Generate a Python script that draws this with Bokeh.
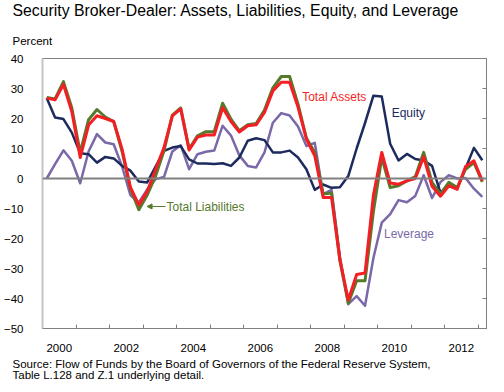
from bokeh.plotting import figure
from bokeh.models import (LinearAxis, FixedTicker, Span, Label, Arrow, NormalHead, Range1d, Title)
from bokeh.embed import file_html
from bokeh.resources import INLINE

# Quarterly observations, 2000Q1 .. 2013Q1 (percent change, annual rate)
quarters = [f"{y}Q{q}" for y in range(2000, 2014) for q in range(1, 5)][:53]

assets = [26.8, 26.2, 31.3, 22.3, 7.0, 17.8, 20.9, 20.0, 19.0, 9.8,
          -3.0, -8.8, -4.3, 3.0, 10.3, 20.9, 23.2, 9.5, 13.8, 14.5,
          14.5, 23.6, 19.0, 15.5, 17.6, 17.9, 22.0, 29.2, 32.1, 32.1,
          23.8, 13.1, 7.6, -6.3, -6.3, -27.0, -40.5, -32.0, -31.5, -5.6,
          8.7, -1.5, -1.9, -0.8, 0.0, 7.2, -2.6, -5.9, -2.4, -3.6,
          4.0, 5.9, -0.8]

liabilities = [27.0, 26.5, 32.3, 23.5, 8.6, 19.6, 23.0, 20.5, 19.0, 9.0,
               -3.5, -10.4, -5.5, 0.8, 9.2, 21.1, 23.5, 9.8, 14.2, 15.6,
               15.6, 25.1, 19.8, 15.9, 17.9, 18.3, 22.8, 30.2, 34.0, 34.0,
               24.8, 13.5, 8.7, -5.2, -4.8, -27.4, -41.6, -34.1, -34.1, -11.0,
               7.0, -3.0, -2.4, -0.8, 0.6, 8.7, -1.3, -5.2, -1.3, -3.0,
               3.1, 5.3, -1.1]

equity = [26.8, 20.3, 19.8, 15.3, 8.4, 8.1, 5.3, 7.2, 6.7, 4.2,
          2.6, -1.0, -1.3, 4.0, 9.2, 10.3, 10.8, 6.4, 5.0, 5.0,
          4.8, 5.1, 4.2, 7.0, 12.6, 13.4, 12.8, 8.7, 8.7, 9.3,
          7.0, 3.1, -3.8, -2.0, -3.1, -2.9, 0.8, 10.0, 18.5, 27.6,
          27.3, 11.6, 6.0, 8.2, 6.5, 6.0, 4.2, -4.7, -2.6, -3.2,
          3.4, 10.2, 6.1]

leverage = [0.0, 4.8, 9.4, 5.9, -1.6, 9.0, 14.8, 12.0, 11.4, 4.0,
            -5.6, -8.0, -3.6, -0.2, 0.5, 9.0, 11.1, 3.1, 8.1, 8.9,
            9.3, 17.6, 14.3, 7.7, 4.2, 3.7, 8.7, 18.6, 21.8, 21.0,
            17.3, 10.8, 11.9, -5.2, -3.8, -26.0, -41.9, -39.2, -42.4, -26.5,
            -14.7, -11.9, -7.2, -7.9, -5.8, 1.1, -6.5, -1.2, 1.1, 0.0,
            0.2, -3.4, -6.1]

y_ticks = [-50, -40, -30, -20, -10, 0, 10, 20, 30, 40]
year_labels = ["2000", "2002", "2004", "2006", "2008", "2010", "2012"]
year_bounds = list(range(2000, 2014))

TITLE = "Security Broker-Dealer: Assets, Liabilities, Equity, and Leverage"
UNITS = "Percent"
SOURCE = ("Source: Flow of Funds by the Board of Governors of the Federal Reserve System,\n"
          "Table L.128 and Z.1 underlying detail.")

FONT = "Liberation Sans"
RED = "#F41F25"
GREEN = "#557A2C"
NAVY = "#1C2A5E"
PURPLE = "#7A68A8"
GRAY = "#808080"

X0, X1, Y0, Y1 = 2000, 2013.25, -50, 40
W, H = 488, 388
BL, BR, BT, BB = 30, 2, 58, 60


def qpos(label):
    return int(label[:4]) + (int(label[5]) - 0.5) / 4


x = [qpos(s) for s in quarters]

p = figure(width=W, height=H, x_range=Range1d(X0, X1), y_range=Range1d(Y0, Y1),
           output_backend="svg", toolbar_location=None, title=None,
           x_axis_location=None, y_axis_location=None,
           min_border_left=BL, min_border_right=BR, min_border_top=BT, min_border_bottom=BB,
           background_fill_color="white", border_fill_color="white",
           outline_line_color=GRAY, outline_line_width=1)
p.xgrid.visible = False
p.ygrid.visible = False

yax = LinearAxis(ticker=FixedTicker(ticks=y_ticks), axis_line_color="#c4c4c4", axis_line_width=2,
                 major_tick_line_color=None, minor_tick_line_color=None,
                 major_label_standoff=13, major_label_text_font=FONT,
                 major_label_text_font_size="11.5px", major_label_text_color="black")
p.add_layout(yax, "left")

rax = LinearAxis(ticker=FixedTicker(ticks=[], minor_ticks=y_ticks), axis_line_color=GRAY,
                 axis_line_width=1, major_tick_line_color=None,
                 minor_tick_in=4, minor_tick_out=0, minor_tick_line_color=GRAY)
p.add_layout(rax, "right")

label_pos = [int(s) + 0.5 for s in year_labels]
xax = LinearAxis(ticker=FixedTicker(ticks=label_pos, minor_ticks=year_bounds),
                 major_label_overrides={pos: s for pos, s in zip(label_pos, year_labels)},
                 axis_line_color=GRAY, axis_line_width=1,
                 major_tick_line_color=None, major_tick_in=0, major_tick_out=0,
                 minor_tick_line_color=GRAY, minor_tick_in=4, minor_tick_out=0,
                 major_label_standoff=15, major_label_text_font=FONT,
                 major_label_text_font_size="11.5px", major_label_text_color="black")
p.add_layout(xax, "below")

# Titles (stacked outward from the frame)
p.add_layout(Title(text=UNITS, align="left", offset=-BL, standoff=24, vertical_align="bottom",
                   text_font=FONT, text_font_size="11.5px", text_font_style="normal",
                   text_color="black"), "above")
p.add_layout(Title(text=TITLE, align="left", offset=-BL, standoff=0, vertical_align="top",
                   text_font=FONT, text_font_size="15.8px", text_font_style="normal",
                   text_color="black"), "above")
p.add_layout(Title(text=SOURCE, align="left", offset=-BL, standoff=7, vertical_align="top",
                   text_font=FONT, text_font_size="11.5px", text_font_style="normal",
                   text_line_height=0.88, text_color="black"), "below")

p.add_layout(Span(location=0, dimension="width", line_color=GRAY, line_width=2))

p.line(x, leverage, line_color=PURPLE, line_width=2.5, line_join="round")
p.line(x, equity, line_color=NAVY, line_width=2.5, line_join="round")
p.line(x, liabilities, line_color=GREEN, line_width=3, line_join="round")
p.line(x, assets, line_color=RED, line_width=3, line_join="round")


def add_label(text, xx, yy, color, size="12px"):
    p.add_layout(Label(x=xx, y=yy, text=text,
                       text_font=FONT, text_font_size=size, text_color=color,
                       text_align="left", text_baseline="middle"))


add_label("Total Assets", 2007.75, 27.3, RED)
add_label("Equity", 2010.42, 21.7, NAVY)
add_label("Leverage", 2010.19, -18.5, PURPLE)
add_label("Total Liabilities", 2003.70, -9.4, GREEN)
p.add_layout(Arrow(end=NormalHead(size=5, fill_color=GREEN, line_color=GREEN, line_width=1),
                   x_start=2003.67, y_start=-9.33, x_end=2003.12, y_end=-9.33,
                   line_color=GREEN, line_width=1))

open("out.html", "w").write(file_html(p, INLINE))
